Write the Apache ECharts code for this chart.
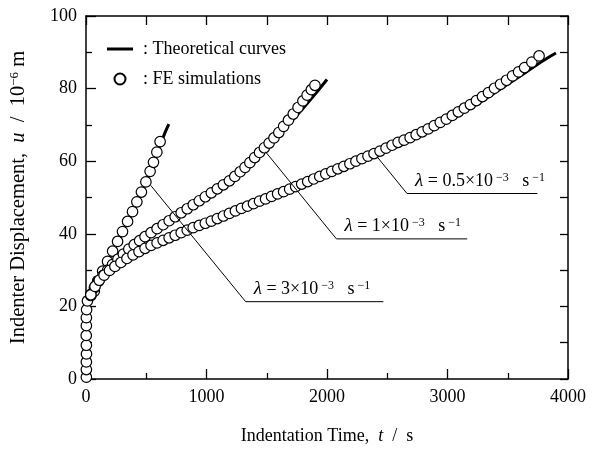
<!DOCTYPE html>
<html>
<head>
<meta charset="utf-8">
<script src="https://cdn.jsdelivr.net/npm/echarts@6/dist/echarts.min.js"></script>
<style>html,body{margin:0;padding:0;background:#fff}#c{width:600px;height:450px}</style>
</head>
<body>
<div id="c"></div>
<script>
// ---- data ----
const xTicks = [0, 1000, 2000, 3000, 4000];
const yTicks = [0, 20, 40, 60, 80, 100];

// initial (elastic) FE points, shared by all three rates
const feStart = [[3,0.5],[3,2.6],[3,4.7],[4,6.9],[3,9.3],[2,12],[3,14.7],[3,16.9],[5,19.1],[12,21.5]];

// lambda = 3e-3 s^-1
const theory3 = [[0,21],[40,23],[70,24.4],[100,26.9],[140,29.7],[180,32.4],[220,35.1],[260,37.8],[300,40.4],[350,43.7],[400,47],[450,50.5],[500,54.3],[550,58.6],[600,63.2],[650,67.4],[687,70.2]];
const fe3 = [[40,23],[69,24.2],[97,27],[138,29.7],[179,32.4],[221,35.2],[262,37.9],[303,40.6],[345,43.4],[386,46.1],[422,48.8],[460,51.5],[497,54.3],[532,57.2],[560,59.7],[588,62.5],[615,65.4]];

// lambda = 1e-3 s^-1
const theory1 = [[0,21],[40,23],[100,26.6],[200,30.7],[300,34.2],[400,37],[550,40.5],[700,43.8],[900,48.2],[1100,52.6],[1200,54.8],[1300,57.6],[1400,60.7],[1500,64],[1600,67.3],[1700,70.8],[1800,74.5],[1900,78.4],[2000,82.5]];
const fe1 = [[40,23.3],[70,25.2],[105,27],[140,28.5],[180,30],[220,31.5],[265,33],[310,34.4],[355,35.8],[400,37],[445,38.1],[490,39.2],[540,40.3],[590,41.4],[640,42.5],[690,43.6],[740,44.7],[790,45.8],[840,46.9],[890,48],[940,49.1],[990,50.2],[1040,51.3],[1090,52.4],[1140,53.5],[1190,54.6],[1235,55.8],[1280,57.1],[1320,58.3],[1360,59.6],[1400,61],[1440,62.4],[1480,63.7],[1520,65],[1560,66.4],[1600,67.9],[1640,69.6],[1680,71.3],[1720,73],[1760,74.8],[1800,76.6],[1835,78.2],[1870,79.7],[1900,80.9]];

// lambda = 0.5e-3 s^-1
const theory05 = [[0,21],[40,23],[100,26.3],[200,29.7],[300,32.3],[400,34.4],[600,37.6],[800,40.4],[1000,43],[1200,45.8],[1400,48.4],[1600,51],[1800,53.6],[2000,56.2],[2200,58.8],[2400,61.5],[2600,64.2],[2800,67.4],[3000,70.9],[3200,74.8],[3400,79],[3600,83.4],[3800,87.8],[3900,89.8]];
const fe05 = [[40,23.2],[75,25.5],[110,27.2],[150,28.6],[195,29.9],[240,31],[290,32.1],[340,33.2],[390,34.2],[440,35.1],[490,36],[540,36.8],[590,37.5],[640,38.2],[690,38.9],[740,39.6],[790,40.3],[840,41],[890,41.7],[940,42.3],[990,42.9],[1040,43.5],[1090,44.2],[1140,44.9],[1190,45.6],[1240,46.3],[1290,47],[1340,47.6],[1390,48.3],[1440,49],[1490,49.6],[1540,50.3],[1590,51],[1640,51.6],[1690,52.3],[1740,53],[1790,53.7],[1840,54.4],[1890,55.1],[1940,55.8],[1990,56.5],[2040,57.2],[2090,57.9],[2140,58.6],[2190,59.3],[2240,60],[2290,60.7],[2340,61.4],[2390,62.1],[2440,62.8],[2490,63.6],[2540,64.4],[2590,65.2],[2640,65.8],[2690,66.5],[2740,67.3],[2790,68.1],[2840,68.9],[2890,69.8],[2940,70.7],[2990,71.6],[3040,72.6],[3090,73.6],[3140,74.6],[3190,75.6],[3240,76.7],[3290,77.8],[3340,78.9],[3390,80.1],[3440,81.2],[3490,82.3],[3540,83.5],[3590,84.6],[3640,85.8],[3700,87.3],[3760,89]];

// annotation labels: leader start on curve, corner, end of underline (data coords)
const noteText = ['3', '1', '0.5'];
const noteStart = [[538,53.3],[1490,62.6],[2416,61.2]];
const noteCorner = [[1325,21.3],[2078,38.6],[2664,51.1]];
const noteEnd = [[2468,21.3],[3164,38.6],[3746,51.1]];

// ---- chart ----
const FONT = '"Liberation Serif","Times New Roman",serif';
const chart = echarts.init(document.getElementById('c'), null, {renderer: 'canvas'});

function lineSeries(data) {
  return {type: 'line', name: 'Theoretical curves', data: data, symbol: 'none', smooth: 0.3,
    lineStyle: {color: '#000', width: 3}, itemStyle: {color: '#000'}, z: 2, silent: true};
}
function feSeries(data) {
  return {type: 'scatter', name: 'FE simulations', data: data, symbol: 'circle', symbolSize: 10.5,
    itemStyle: {color: '#fff', borderColor: '#000', borderWidth: 1.2, opacity: 1}, z: 3, silent: true};
}

const axisLbl = {color: '#000', fontFamily: FONT, fontSize: 18, formatter: v => String(v)};
const axLine = {show: true, onZero: false, lineStyle: {color: '#000', width: 1.5}};
const tickStyle = {color: '#000', width: 1.3};

chart.setOption({
  animation: false,
  backgroundColor: '#fff',
  grid: {left: 85, right: 32, top: 16, bottom: 68, containLabel: false},
  legend: {
    data: [
      {name: 'Theoretical curves', icon: 'path://M0,0 M26,11 M0,4 L26,4 L26,7 L0,7 Z'},
      {name: 'FE simulations', icon: 'circle'}
    ],
    orient: 'vertical', left: 102, top: 35,
    itemWidth: 26, itemHeight: 11, itemGap: 12, selectedMode: false,
    formatter: ': {name}',
    textStyle: {color: '#000', fontFamily: FONT, fontSize: 18, padding: [0, 0, 0, 5]}
  },
  xAxis: [
    {type: 'value', min: xTicks[0], max: xTicks[xTicks.length - 1], interval: 1000, position: 'bottom',
     axisLine: axLine, splitLine: {show: false},
     axisTick: {show: true, inside: true, length: 10, lineStyle: tickStyle},
     minorTick: {show: true, splitNumber: 2, length: 6, lineStyle: tickStyle},
     axisLabel: Object.assign({margin: 9}, axisLbl),
     name: '{n|Indentation Time,  }{i|t}{n|  /  s}', nameLocation: 'middle', nameGap: 48,
     nameTextStyle: {rich: {n: {fontFamily: FONT, fontSize: 18, color: '#000'}, i: {fontFamily: FONT, fontSize: 18, fontStyle: 'italic', color: '#000'}}}},
    {type: 'value', min: 0, max: 4000, interval: 500, position: 'top',
     axisLine: axLine, splitLine: {show: false}, axisLabel: {show: false},
     axisTick: {show: true, inside: true, length: 9, lineStyle: tickStyle}}
  ],
  yAxis: [
    {type: 'value', min: yTicks[0], max: yTicks[yTicks.length - 1], interval: 20, position: 'left',
     axisLine: axLine, splitLine: {show: false},
     axisTick: {show: true, inside: true, length: 10, lineStyle: tickStyle},
     minorTick: {show: true, splitNumber: 2, length: 6, lineStyle: tickStyle},
     axisLabel: Object.assign({margin: 9}, axisLbl),
     name: '{n|Indenter Displacement,  }{i|u}{n|  /  10}{s|−6}{n| m}', nameLocation: 'middle', nameGap: 56,
     nameTextStyle: {rich: {
       n: {fontFamily: FONT, fontSize: 20.5, color: '#000', lineHeight: 22},
       i: {fontFamily: FONT, fontSize: 20.5, fontStyle: 'italic', color: '#000', lineHeight: 22},
       s: {fontFamily: FONT, fontSize: 13, color: '#000', verticalAlign: 'top', lineHeight: 22}}}},
    {type: 'value', min: 0, max: 100, interval: 10, position: 'right',
     axisLine: axLine, splitLine: {show: false}, axisLabel: {show: false},
     axisTick: {show: true, inside: true, length: 8, lineStyle: tickStyle}}
  ],
  series: [
    lineSeries(theory3), lineSeries(theory1), lineSeries(theory05),
    feSeries(feStart), feSeries(fe3), feSeries(fe1), feSeries(fe05)
  ]
});

// annotations: leader lines, underline, rich-text labels
const toPx = p => chart.convertToPixel({gridIndex: 0}, p);
const graphics = [];
for (let i = 0; i < noteText.length; i++) {
  const a = toPx(noteStart[i]), b = toPx(noteCorner[i]), c = toPx(noteEnd[i]);
  graphics.push({type: 'polyline', z: 10, shape: {points: [a, b, c]}, style: {stroke: '#000', lineWidth: 1, fill: null}});
  graphics.push({type: 'text', z: 10, x: b[0] + 8, y: b[1] - 3, style: {
    text: '{l|λ}{n| = ' + noteText[i] + '×10}{s| −3}{n|   s}{s| −1}',
    verticalAlign: 'bottom', align: 'left',
    rich: {
      l: {fontFamily: FONT, fontSize: 19, fontStyle: 'italic', fill: '#000', lineHeight: 19},
      n: {fontFamily: FONT, fontSize: 18, fill: '#000', lineHeight: 19},
      s: {fontFamily: FONT, fontSize: 12, fill: '#000', verticalAlign: 'top', lineHeight: 19}
    }}});
}
chart.setOption({graphic: graphics});
</script>
</body>
</html>
